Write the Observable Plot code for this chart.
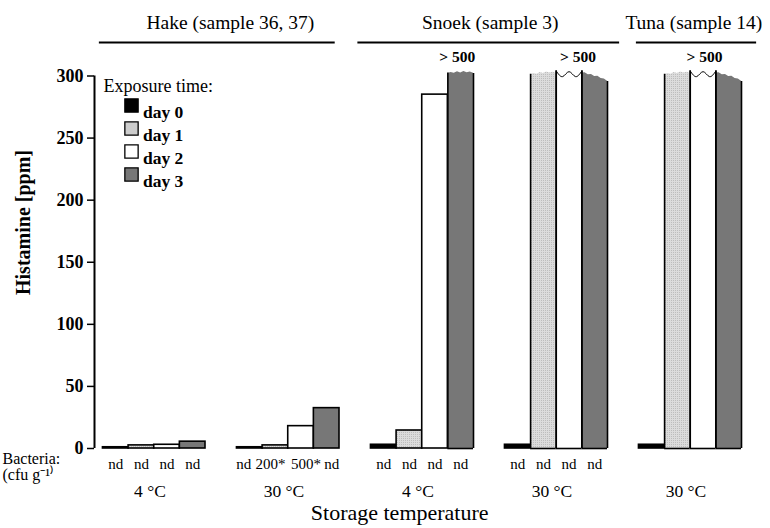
<!DOCTYPE html>
<html><head><meta charset="utf-8">
<script src="https://cdn.jsdelivr.net/npm/d3@7"></script>
<script src="https://cdn.jsdelivr.net/npm/@observablehq/plot@0.6"></script>
<style>body{margin:0;background:#fff}</style>
</head><body><div id="chart"></div>
<script>
// ---- data ----
const groups = ["hake4", "hake30", "snoek4", "snoek30", "tuna30"];
const groupTemps = ["4 °C", "30 °C", "4 °C", "30 °C", "30 °C"];
const days = ["day 0", "day 1", "day 2", "day 3"];
const hake4 = [1, 2.5, 3, 5.5];
const hake30 = [1, 2.5, 18, 32.5];
const snoek4 = [3, 14.5, 285, 500];
const snoek30 = [3, 500, 500, 500];
const tuna30 = [3, 500, 500, 500];
const bactHake4 = ["nd", "nd", "nd", "nd"];
const bactHake30 = ["nd", "200*", "500*", "nd"];
const bactSnoek4 = ["nd", "nd", "nd", "nd"];
const bactSnoek30 = ["nd", "nd", "nd", "nd"];
const bactTuna30 = ["", "", "", ""];
const overLimit = 500;
const overLabel = "> 500";
const yTicks = [0, 50, 100, 150, 200, 250, 300];
const headerTexts = ["Hake (sample 36, 37)", "Snoek (sample 3)", "Tuna (sample 14)"];

// ---- styles / layout ----
const dayFills = ["#000000", "url(#stipple)", "#ffffff", "#777777"];
const swatchFills = ["#000000", "#cdcdcd", "#ffffff", "#777777"];
const xMin = -0.33;
const unitPx = 25.77;
const cap = 302;
const torn = [0, 0.9, 0.2, 1.4, 0.5, 1.6, 0.7, 1.2, 0.3];
const headerLayout = [
  {fx: "hake4", x: 4.97, x1: -0.14, x2: 9.06},
  {fx: "snoek4", x: 4.65, x1: -0.51, x2: 9.7},
  {fx: "tuna30", x: 2.14, x1: -0.1, x2: 4.59}
];
const overLabelX = {snoek4: 3.37, snoek30: 2.85, tuna30: 2.56};
const bactDx = {hake30: [-6, -5, 5, 5]};

const series = [hake4, hake30, snoek4, snoek30, tuna30];
const bacteria = [bactHake4, bactHake30, bactSnoek4, bactSnoek30, bactTuna30];
const rows = groups.flatMap((g, i) => days.map((day, d) => ({
  g, day, d, value: series[i][d], bact: bacteria[i][d], broken: series[i][d] >= overLimit
})));
const isBroken = (g, d) => rows.some(r => r.g === g && r.d === d && r.broken);
const normal = rows.filter(r => !r.broken);
const broken = rows.filter(r => r.broken);

// torn top profile of a broken bar (decoration for the axis break)
function tops(r) {
  const prev = isBroken(r.g, r.d - 1), next = isBroken(r.g, r.d + 1);
  let a = cap, b = cap;
  if (r.d === 1) { a = cap - 1; b = cap; }
  if (r.d === 3 && prev) { a = cap + 0.5; b = cap - 6.5; }
  return {a, b, left: prev ? cap + 2 : a + 0.5, right: next ? cap + 2 : b};
}
const tornPts = broken.filter(r => r.d !== 2).flatMap(r => {
  const t = tops(r);
  return torn.map((j, k) => ({g: r.g, d: r.d, id: r.g + r.d, x: r.d + k / (torn.length - 1),
    y: t.a + (t.b - t.a) * k / (torn.length - 1) + j}));
});
const sides = broken.flatMap(r => {
  const t = tops(r);
  return [{g: r.g, x: r.d, h: t.left}, {g: r.g, x: r.d + 1, h: t.right}];
});
const wave = [0, -4.5, -0.5, -4.5, 0];
const wavePts = broken.filter(r => r.d === 2).flatMap(r =>
  wave.map((w, k) => ({g: r.g, id: r.g, x: r.d + k / (wave.length - 1), y: cap + 2 + w})));
const overLabels = groups.filter(g => rows.some(r => r.g === g && r.broken)).map(g => ({g, x: overLabelX[g]}));
const headers = headerTexts.map((t, i) => ({text: t, ...headerLayout[i]}));
const first = [{g: groups[0]}];

const marks = [
  Plot.axisY({ticks: yTicks, tickSize: 7, tickPadding: 4, fontWeight: "bold", fontSize: 18, label: null, strokeWidth: 1.5}),
  Plot.ruleX(first, {fx: "g", x: () => xMin, y1: 0, y2: 300, strokeWidth: 2}),
  Plot.axisFx({anchor: "bottom", tickSize: 0, tickPadding: 36, fontSize: 17.5, label: null,
    tickFormat: g => groupTemps[groups.indexOf(g)]}),
  // normal bars
  ...days.map((day, d) => Plot.rectY(normal.filter(r => r.d === d), {
    fx: "g", x1: "d", x2: r => r.d + 1, y: "value", fill: dayFills[d], stroke: "black", strokeWidth: 1.6
  })),
  // broken bars (> 500)
  ...days.map((day, d) => Plot.areaY(tornPts.filter(p => p.d === d), {
    fx: "g", x: "x", y: "y", z: "id", fill: dayFills[d]
  })),
  Plot.ruleX(sides, {fx: "g", x: "x", y1: 0, y2: "h", strokeWidth: 1.6}),
  Plot.ruleY(broken, {fx: "g", x1: "d", x2: r => r.d + 1, y: () => 0, strokeWidth: 1.6}),
  Plot.line(wavePts, {fx: "g", x: "x", y: "y", z: "id", curve: "natural", stroke: "black", strokeWidth: 1}),
  Plot.text(overLabels, {fx: "g", x: "x", y: () => 315, text: () => overLabel, fontWeight: "bold", fontSize: 15.5}),
  // bacteria counts
  Plot.text(rows, {fx: "g", x: r => r.d + 0.5 + ((bactDx[r.g] || [])[r.d] || 0) / unitPx, y: () => 0, dy: 16, text: "bact", fontSize: 15}),
  Plot.text(first, {fx: "g", frameAnchor: "bottom-left", dx: -92, dy: 15, text: () => "Bacteria:", textAnchor: "start", fontSize: 16}),
  Plot.text(first, {fx: "g", frameAnchor: "bottom-left", dx: -92, dy: 31, text: () => "(cfu g⁻¹⁾", textAnchor: "start", fontSize: 16}),
  // axis titles
  Plot.text(first, {fx: "g", x: () => xMin, y: () => 182, dx: -71, rotate: -90, text: () => "Histamine [ppm]", fontWeight: "bold", fontSize: 20}),
  Plot.text([{g: "snoek4"}], {fx: "g", x: () => 1.12, y: () => 0, dy: 64, text: () => "Storage temperature", fontSize: 22}),
  // headers
  Plot.text(headers, {fx: "fx", x: "x", y: () => 343, text: "text", fontSize: 19.5}),
  Plot.ruleY(headers, {fx: "fx", x1: "x1", x2: "x2", y: () => 327, strokeWidth: 2.2}),
  // legend
  Plot.text(first, {fx: "g", frameAnchor: "top-left", dx: 9, dy: 3, text: () => "Exposure time:", textAnchor: "start", fontSize: 18}),
  ...days.map((day, d) => Plot.dot(first, {fx: "g", frameAnchor: "top-left", dx: 37, dy: 29.5 + d * 23,
    symbol: "square", r: 7.5, fill: swatchFills[d], stroke: "black", strokeWidth: 1.3})),
  ...days.map((day, d) => Plot.text(first, {fx: "g", frameAnchor: "top-left", dx: 48.5, dy: 29.5 + d * 23,
    text: () => day, textAnchor: "start", fontWeight: "bold", fontSize: 17.5}))
];

const svg = Plot.plot({
  width: 770, height: 528,
  marginTop: 75.5, marginBottom: 80, marginLeft: 93, marginRight: 28,
  style: {fontFamily: "'Liberation Serif', 'Times New Roman', serif", fontSize: "15px", color: "black", background: "white"},
  fx: {domain: groups, paddingInner: 0.1695, paddingOuter: 0, axis: null},
  x: {domain: [xMin, 4], axis: null},
  y: {domain: [0, 300], axis: null},
  marks
});

const ns = "http://www.w3.org/2000/svg";
const defs = document.createElementNS(ns, "defs");
defs.innerHTML = '<pattern id="stipple" patternUnits="userSpaceOnUse" width="2" height="2">' +
  '<rect width="2" height="2" fill="#dcdcdc"/><rect width="1" height="1" fill="#bdbdbd"/></pattern>';
svg.insertBefore(defs, svg.firstChild);
document.getElementById("chart").appendChild(svg);
</script>
</body></html>
